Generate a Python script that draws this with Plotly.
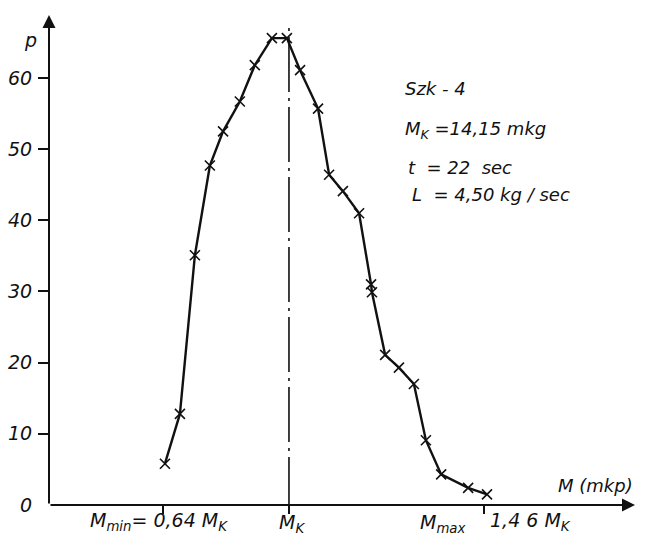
import plotly.graph_objects as go

# ---- data ----
MK = 14.15                      # M_K [mkg]
M_values = [10.01, 10.51, 11.01, 11.51, 11.95, 12.51, 13.01, 13.58, 14.08,
            14.52, 15.12, 15.49, 15.95, 16.49, 16.89, 16.92, 17.36, 17.82,
            18.32, 18.72, 19.23, 20.13, 20.76]
p_values = [5.8, 12.8, 35.1, 47.7, 52.5, 56.7, 61.8, 65.6, 65.6,
            61.1, 55.7, 46.4, 44.1, 41.0, 31.0, 29.9, 21.1, 19.3,
            17.0, 9.1, 4.3, 2.4, 1.5]
y_ticks = [10, 20, 30, 40, 50, 60]
x_ticks = [9.94, MK, 20.66]     # M_min, M_K, M_max as drawn
info_lines = ["Szk - 4", "M<sub>K</sub> =14,15 mkg", "t  = 22  sec", "L  = 4,50 kg / sec"]

X_RANGE = [6.14, 25.70]
Y_RANGE = [0, 68.85]

INK = "#111111"
FAM = "DejaVu Sans"

fig = go.Figure()

# dash-dot line at M_K
fig.add_trace(go.Scatter(
    x=[MK, MK], y=[-1.0, 67.3], mode="lines",
    line=dict(color=INK, width=1.6, dash="55px,6px,3px,6px"),
    hoverinfo="skip", showlegend=False, cliponaxis=False))

# measured curve
fig.add_trace(go.Scatter(
    x=M_values, y=p_values, mode="lines+markers",
    line=dict(color=INK, width=2.4),
    marker=dict(symbol="x-thin", size=10, line=dict(color=INK, width=1.6)),
    showlegend=False, cliponaxis=False))

fig.update_layout(
    width=646, height=540,
    margin=dict(l=49, r=11, t=15, b=35, autoexpand=False),
    paper_bgcolor="white", plot_bgcolor="white",
    font=dict(family=FAM, size=16, color=INK),
    xaxis=dict(range=X_RANGE, showgrid=False, zeroline=False, showline=False,
               tickvals=x_ticks, ticktext=["", "", ""], ticks="outside",
               ticklen=8, tickwidth=1.6, tickcolor=INK, fixedrange=True,
               automargin=False),
    yaxis=dict(range=Y_RANGE, showgrid=False, zeroline=False, showline=False,
               tickvals=y_ticks, ticks="outside", ticklen=10, tickwidth=1.6,
               tickcolor=INK, ticklabelstandoff=2,
               tickfont=dict(family=FAM, size=19, color=INK, style="italic"),
               fixedrange=True, automargin=False),
)

def px2paper(px, py):
    return (px - 49) / 586.0, (505 - py) / 490.0

# axes drawn as arrows
fig.add_annotation(x=X_RANGE[1], y=0, ax=X_RANGE[0], ay=0, xref="x", yref="y",
                   axref="x", ayref="y", text="", showarrow=True,
                   arrowhead=2, arrowsize=1.3, arrowwidth=2, arrowcolor=INK)
fig.add_annotation(x=X_RANGE[0], y=Y_RANGE[1], ax=X_RANGE[0], ay=0, xref="x", yref="y",
                   axref="x", ayref="y", text="", showarrow=True,
                   arrowhead=2, arrowsize=1.3, arrowwidth=2, arrowcolor=INK)

def label(text, px, py, anchor="left", size=16):
    x, y = px2paper(px, py)
    fig.add_annotation(x=x, y=y, xref="paper", yref="paper", text=text,
                       showarrow=False, xanchor=anchor, yanchor="middle",
                       font=dict(family=FAM, size=size, color=INK,
                                 style="italic"))

label("p", 30, 40, "center", 19)
label("0", 26, 505, "center", 19)
label("M (mkp)", 556, 485, "left", 18)
label("M<sub>min</sub>= 0,64 M<sub>K</sub>", 88, 521, "left", 19)
label("M<sub>K</sub>", 292, 523, "center", 19)
label("M<sub>max</sub>", 418, 523, "left", 19)
label("1,4 6 M<sub>K</sub>", 488, 521, "left", 19)

label(info_lines[0], 403, 88, "left", 18)
label(info_lines[1], 403, 130, "left", 18)
label(info_lines[2], 406, 168, "left", 18)
label(info_lines[3], 410, 194, "left", 18)

fig.write_html("out.html", config={"displayModeBar": False},
               post_script="document.body.style.margin='0px';document.body.style.overflow='hidden';")
